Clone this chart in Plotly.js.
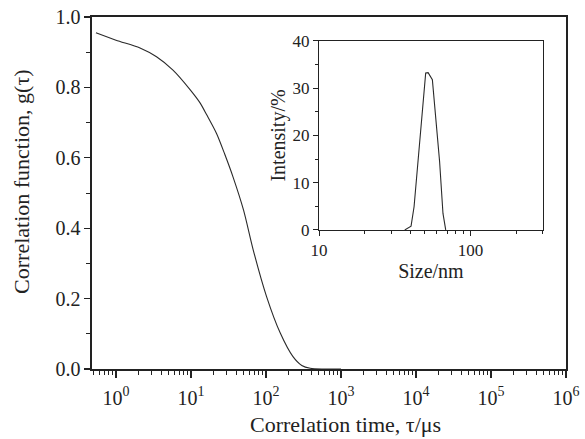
<!DOCTYPE html>
<html>
<head>
<meta charset="utf-8">
<script src="https://cdn.plot.ly/plotly-3.0.1.min.js"></script>
<style>html,body{margin:0;padding:0;background:#fff;}#chart{width:585px;height:439px;}</style>
</head>
<body>
<div id="chart"></div>
<script>
// Main correlation curve
const tau = [0.54, 1.0, 2.09, 3.47, 5.75, 9.77, 13.2, 16.2, 21.9, 28.2, 36.3, 50.1, 67.6, 102, 155, 229, 300, 389, 600, 1000];
const g = [0.955, 0.934, 0.912, 0.887, 0.849, 0.793, 0.756, 0.722, 0.669, 0.610, 0.546, 0.452, 0.338, 0.205, 0.102, 0.035, 0.010, 0.002, 0.0, 0.0];

// Inset size distribution
const sizeNm = [36.8, 40.5, 42.4, 50.6, 52.5, 56.0, 62.5, 65.8, 68.6];
const intensity = [0, 0.8, 4.9, 33.2, 33.3, 31.8, 14.5, 3.5, 0];

// Tick labels
const mainTickVals = [1, 10, 100, 1000, 10000, 100000, 1000000];
const mainTickText = ['10<sup>0</sup>', '10<sup>1</sup>', '10<sup>2</sup>', '10<sup>3</sup>', '10<sup>4</sup>', '10<sup>5</sup>', '10<sup>6</sup>'];
const yTickVals = [0, 0.2, 0.4, 0.6, 0.8, 1.0];
const yTickText = ['0.0', '0.2', '0.4', '0.6', '0.8', '1.0'];
const insetXTickVals = [10, 100];
const insetXTickText = ['10', '100'];
const insetYTickVals = [0, 10, 20, 30, 40];

const FONT = 'Liberation Serif, Times New Roman, serif';

const traces = [
  {x: tau, y: g, type: 'scatter', mode: 'lines', line: {color: '#2a2a2a', width: 1.1, shape: 'spline', smoothing: 0.8}, xaxis: 'x', yaxis: 'y', hoverinfo: 'none'},
  {x: sizeNm, y: intensity, type: 'scatter', mode: 'lines', line: {color: '#2a2a2a', width: 1.1}, xaxis: 'x2', yaxis: 'y2', hoverinfo: 'none'}
];

const layout = {
  width: 585, height: 439,
  margin: {l: 92, r: 19, t: 17, b: 70},
  paper_bgcolor: '#fff', plot_bgcolor: 'rgba(0,0,0,0)',
  showlegend: false,
  font: {family: FONT, color: '#222', size: 20},
  xaxis: {
    type: 'log', range: [-0.32, 6], domain: [0, 1],
    tickvals: mainTickVals, ticktext: mainTickText,
    ticks: 'outside', ticklen: 7, tickwidth: 1.3, tickcolor: '#222',
    minor: {ticks: 'outside', ticklen: 4, tickwidth: 1, tickcolor: '#222', dtick: 'D1'},
    showline: true, linecolor: '#222', linewidth: 1.6, mirror: true,
    showgrid: false, zeroline: false,
    tickfont: {size: 20, family: FONT}, ticklabelstandoff: 3
  },
  yaxis: {
    range: [0, 1.0], domain: [0, 1],
    tickvals: yTickVals, ticktext: yTickText,
    ticks: 'outside', ticklen: 6, tickwidth: 1.3, tickcolor: '#222',
    minor: {ticks: 'outside', ticklen: 4, tickwidth: 1, tickcolor: '#222', dtick: 0.1},
    showline: true, linecolor: '#222', linewidth: 1.6, mirror: true,
    showgrid: false, zeroline: false,
    tickfont: {size: 20, family: FONT}
  },
  xaxis2: {
    type: 'log', range: [1, Math.log10(300)], domain: [0.479, 0.951], anchor: 'y2',
    tickvals: insetXTickVals, ticktext: insetXTickText,
    ticks: 'outside', ticklen: 5, tickwidth: 1, tickcolor: '#222',
    minor: {ticks: 'outside', ticklen: 3, tickwidth: 1, tickcolor: '#222', dtick: 'D1'},
    showline: true, linecolor: '#222', linewidth: 1.1, mirror: true,
    showgrid: false, zeroline: false,
    tickfont: {size: 17, family: FONT},
    title: {text: 'Size/nm', font: {size: 20, family: FONT}, standoff: 0}
  },
  yaxis2: {
    range: [0, 40], domain: [0.395, 0.932], anchor: 'x2',
    tickvals: insetYTickVals,
    ticks: 'outside', ticklen: 5, tickwidth: 1, tickcolor: '#222',
    minor: {ticks: 'outside', ticklen: 3, tickwidth: 1, tickcolor: '#222', dtick: 5},
    showline: true, linecolor: '#222', linewidth: 1.1, mirror: true,
    showgrid: false, zeroline: false,
    tickfont: {size: 17, family: FONT},
    title: {text: 'Intensity/%', font: {size: 20, family: FONT}, standoff: 1}
  },
  annotations: [
    {text: 'Correlation time, τ/μs', xref: 'paper', yref: 'paper', x: 0.534, y: -0.2,
     xanchor: 'center', yanchor: 'bottom', showarrow: false, font: {size: 22, family: FONT, color: '#222'}},
    {text: 'Correlation function, g(τ)', xref: 'paper', yref: 'paper', x: -0.150, y: 0.534,
     xanchor: 'center', yanchor: 'middle', textangle: -90, showarrow: false, font: {size: 22, family: FONT, color: '#222'}}
  ]
};

Plotly.newPlot('chart', traces, layout, {staticPlot: true, displayModeBar: false});
</script>
</body>
</html>
